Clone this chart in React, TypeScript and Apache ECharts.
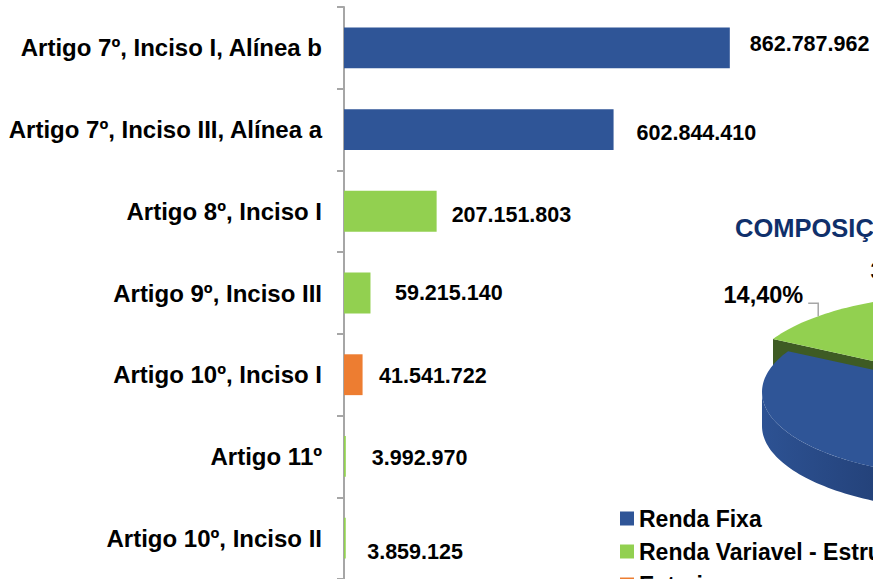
import React, { useEffect, useRef } from 'react';
import * as echarts from 'echarts';

// ---------- data ----------
const categories = [
  'Artigo 7º, Inciso I, Alínea b',
  'Artigo 7º, Inciso III, Alínea a',
  'Artigo 8º, Inciso I',
  'Artigo 9º, Inciso III',
  'Artigo 10º, Inciso I',
  'Artigo 11º',
  'Artigo 10º, Inciso II',
];
const barValues = [862787962, 602844410, 207151803, 59215140, 41541722, 3992970, 3859125];

const pieNames = ['Renda Fixa', 'Renda Variavel - Estruturado', 'Exterior'];
const pieShares = [82.28, 14.4, 3.32];
const pieTitle = 'COMPOSIÇÃO DA CARTEIRA';

// ---------- styles ----------
const FONT = '"Liberation Sans", Arial, sans-serif';
const BLUE = '#2F5597';
const GREEN = '#92D050';
const ORANGE = '#ED7D31';
const barColors = [BLUE, BLUE, GREEN, GREEN, ORANGE, GREEN, GREEN];
const labelNudge = [
  [0, -4], [3, 3], [-5, 3.5], [4.5, 0], [-3.5, 1], [6, 1.5], [1.5, 14],
];

const PIE = { cx: 974, cy: 392, rx: 212, ry: 85, depth: 34, start: 87.5, exX: 26, exY: 15 };
const pieTop = [BLUE, GREEN, ORANGE];
const pieFace = ['#233F72', '#3E5B24', '#8A4515'];
const pieSideStops = [
  ['#2D5293', '#24427A', '#1F3A6B', '#2A4C88'],
  ['#5E8A34', '#4A6E29', '#3E5B24', '#557F2F'],
  ['#C4692A', '#A5561F', '#8A4515', '#B5601F'],
];
const pieExplode = [0, 1, 1];
const pieAngleOrder = [2, 1, 0];
// label layout per slice: anchor fraction along slice; null = no label shown
const pieLabelLayout: any[] = [
  null,
  { frac: 0.62, mode: 'leaderLeft' },
  { frac: 0.5, mode: 'free', dx: -89, dy: -21 },
];

const RAD = Math.PI / 180;
const fmt = (v: number) => String(v).replace(/\B(?=(\d{3})+(?!\d))/g, '.');

function computeAngles() {
  const total = pieShares.reduce((a, b) => a + b, 0);
  const out: number[][] = [];
  let acc = PIE.start;
  for (const idx of pieAngleOrder) {
    const span = (pieShares[idx] / total) * 360;
    out[idx] = [acc, acc + span];
    acc += span;
  }
  return out;
}

function makeRender(i: number, angles: number[][]) {
  return (_params: any, api: any) => {
    const share = api.value(0);
    const [a0, a1] = angles[i];
    const mid = ((a0 + a1) / 2) * RAD;
    const ox = pieExplode[i] * PIE.exX * Math.cos(mid);
    const oy = -pieExplode[i] * PIE.exY * Math.sin(mid);
    const X = PIE.cx + ox;
    const Y = PIE.cy + oy;
    const D = PIE.depth;
    const P = (deg: number, d = 0) => [
      X + PIE.rx * Math.cos(deg * RAD),
      Y - PIE.ry * Math.sin(deg * RAD) + d,
    ];
    const arc = (from: number, to: number, d = 0) => {
      const n = Math.max(2, Math.ceil(Math.abs(to - from) / 1.5));
      const pts: number[][] = [];
      for (let k = 0; k <= n; k++) pts.push(P(from + ((to - from) * k) / n, d));
      return pts;
    };
    const children: any[] = [];
    const face = (deg: number) => ({
      type: 'polygon',
      shape: { points: [[X, Y], P(deg), P(deg, D), [X, Y + D]] },
      style: { fill: pieFace[i] },
    });
    if (Math.cos(a1 * RAD) < 0) children.push(face(a1));
    if (Math.cos(a0 * RAD) > 0) children.push(face(a0));
    for (const k of [-1, 0, 1, 2]) {
      const lo = Math.max(a0, 180 + 360 * k);
      const hi = Math.min(a1, 360 + 360 * k);
      if (hi > lo) {
        const s = pieSideStops[i];
        children.push({
          type: 'polygon',
          shape: { points: [...arc(lo, hi), ...arc(hi, lo, D)] },
          style: {
            fill: new echarts.graphic.LinearGradient(0, 0, 1, 0, [
              { offset: 0, color: s[0] },
              { offset: 0.27, color: s[1] },
              { offset: 0.6, color: s[2] },
              { offset: 1, color: s[3] },
            ]),
          },
        });
      }
    }
    children.push({
      type: 'polygon',
      shape: { points: [[X, Y], ...arc(a0, a1)] },
      style: { fill: pieTop[i] },
    });
    const lay = pieLabelLayout[i];
    if (lay) {
      const text = share.toFixed(2).replace('.', ',') + '%';
      const [ax, ay] = P(a0 + lay.frac * (a1 - a0));
      const textStyle = {
        fontSize: 23.5,
        fontWeight: 'bold',
        fontFamily: FONT,
        fill: '#000',
        verticalAlign: 'middle',
      };
      if (lay.mode === 'leaderLeft') {
        children.push({
          type: 'polyline',
          shape: { points: [[ax, ay], [ax, ay - 13], [ax - 10, ay - 13]] },
          style: { stroke: '#A6A6A6', lineWidth: 1.5, fill: null },
        });
        children.push({
          type: 'text',
          style: { ...textStyle, text, x: ax - 15, y: ay - 21, align: 'right' },
        });
      } else {
        children.push({
          type: 'text',
          style: { ...textStyle, text, x: ax + lay.dx, y: ay + lay.dy, align: 'left' },
        });
      }
    }
    return { type: 'group', children };
  };
}

export default function App() {
  const ref = useRef<HTMLDivElement>(null);
  useEffect(() => {
    document.body.style.margin = '0';
    document.body.style.overflow = 'hidden';
    const chart = echarts.init(ref.current!, undefined, { renderer: 'svg' });
    const angles = computeAngles();
    const pieSeries = [2, 1, 0].map((i, k) => ({
      type: 'custom',
      name: pieNames[i],
      coordinateSystem: 'none',
      silent: true,
      z: 3 + k,
      itemStyle: { color: pieTop[i] },
      data: [[pieShares[i]]],
      renderItem: makeRender(i, angles),
    }));
    chart.setOption({
      animation: false,
      backgroundColor: '#fff',
      grid: { left: 344, right: 0, top: 7, bottom: -2, containLabel: false },
      xAxis: { type: 'value', min: 0, max: 1183000000, show: false },
      yAxis: {
        type: 'category',
        inverse: true,
        data: categories,
        axisLine: { show: true, lineStyle: { color: '#A6A6A6', width: 2 } },
        axisTick: { show: true, length: 7, lineStyle: { color: '#A6A6A6', width: 2 } },
        axisLabel: {
          margin: 22,
          fontSize: 24,
          fontWeight: 'bold',
          color: '#000',
          fontFamily: FONT,
        },
        splitLine: { show: false },
      },
      title: { show: false },
      graphic: [
        {
          type: 'text',
          style: {
            text: pieTitle,
            x: 735,
            y: 228,
            verticalAlign: 'middle',
            fontSize: 25.5,
            fontWeight: 'bold',
            fontFamily: FONT,
            fill: '#10306B',
          },
        },
      ],
      legend: {
        orient: 'vertical',
        left: 620,
        top: 507,
        height: 200,
        padding: 0,
        itemWidth: 14,
        itemHeight: 14,
        itemGap: 10,
        icon: 'rect',
        selectedMode: false,
        data: pieNames.map((n, i) => ({ name: n, itemStyle: { color: pieTop[i] } })),
        textStyle: {
          fontSize: 23,
          lineHeight: 22,
          fontWeight: 'bold',
          color: '#000',
          fontFamily: FONT,
        },
      },
      series: [
        {
          type: 'bar',
          name: 'Valores',
          barWidth: '50%',
          silent: true,
          data: barValues.map((v, i) => ({
            value: v,
            itemStyle: { color: barColors[i] },
            label: { offset: labelNudge[i] },
          })),
          label: {
            show: true,
            position: 'right',
            distance: 20,
            fontSize: 21.5,
            fontWeight: 'bold',
            color: '#000',
            fontFamily: FONT,
            formatter: (p: any) => fmt(p.value),
          },
        },
        ...pieSeries,
      ],
    });
    return () => chart.dispose();
  }, []);
  return <div ref={ref} style={{ width: 873, height: 579 }} />;
}
